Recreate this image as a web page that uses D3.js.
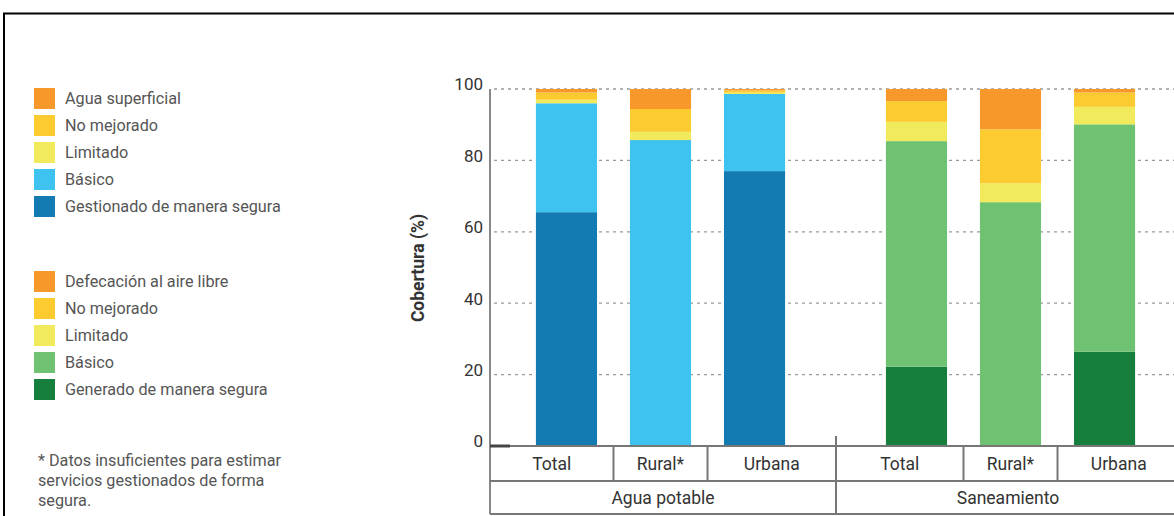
<!DOCTYPE html>
<html>
<head>
<meta charset="utf-8">
<script src="https://cdn.jsdelivr.net/npm/d3@7"></script>
<style>
  body { margin: 0; background: #fff; }
  svg { font-family: Roboto, "Noto Sans", sans-serif; }
</style>
</head>
<body>
<svg id="chart" width="1174" height="516"></svg>
<script>
// data
var groups = ["Agua potable", "Saneamiento"]
var categories = ["Total", "Rural*", "Urbana"]
var yTicks = [0, 20, 40, 60, 80, 100]

var aguaKeys = ["Gestionado de manera segura", "Básico", "Limitado", "No mejorado", "Agua superficial"]
var aguaColors = ["#137bb2", "#3ec3f0", "#f0ea5c", "#fccb30", "#f7992a"]
var aguaValues = [
  [65.5, 30.5, 1.0, 2.0, 1.0],   // Total
  [0, 85.7, 2.3, 6.4, 5.6],      // Rural*
  [77.0, 21.6, 0.4, 0.6, 0.4]    // Urbana
]

var sanKeys = ["Generado de manera segura", "Básico", "Limitado", "No mejorado", "Defecación al aire libre"]
var sanColors = ["#167f3e", "#6fc271", "#f0ea5c", "#fccb30", "#f7992a"]
var sanValues = [
  [22.2, 63.2, 5.4, 5.8, 3.4],
  [0, 68.3, 5.3, 15.1, 11.3],
  [26.4, 63.7, 4.9, 4.0, 1.0]
]

var footnote = ["* Datos insuficientes para estimar", "servicios gestionados de forma", "segura."]

var svg = d3.select("#chart")

// frame of the screenshot
svg.append("line").attr("x1", 3).attr("x2", 1174).attr("y1", 13.5).attr("y2", 13.5)
  .attr("stroke", "#000").attr("stroke-width", 2)
svg.append("line").attr("x1", 4).attr("x2", 4).attr("y1", 13).attr("y2", 516)
  .attr("stroke", "#000").attr("stroke-width", 2)

var plotLeft = 490, plotRight = 1180, plotTop = 89, plotBottom = 446

var y = d3.scaleLinear().domain([0, 100]).range([plotBottom, plotTop])
var xGroup = d3.scaleBand().domain(groups).range([plotLeft, plotLeft + 700])
var xInner = d3.scaleBand().domain(categories).range([13, 328]).padding(0.35)

// gridlines
svg.append("g").selectAll("line")
  .data(yTicks.filter(function (d) { return d > 0 }))
  .enter().append("line")
  .attr("x1", plotLeft + 4).attr("x2", plotRight)
  .attr("y1", function (d) { return y(d) }).attr("y2", function (d) { return y(d) })
  .attr("stroke", "#9a9a9a").attr("stroke-width", 1.3)
  .attr("stroke-dasharray", "3,4")

// y axis labels
var yAxis = svg.append("g")
  .attr("transform", "translate(" + plotLeft + ",0)")
  .call(d3.axisLeft(y).tickValues(yTicks).tickSize(0).tickPadding(7))
yAxis.select(".domain").remove()
yAxis.selectAll("text")
  .attr("font-size", 17).attr("fill", "#333")
  .attr("font-family", "Roboto, sans-serif")
  .attr("dy", "0.05em")

svg.append("text")
  .attr("transform", "translate(424," + 268 + ") rotate(-90)")
  .attr("text-anchor", "middle")
  .attr("font-size", 17.5).attr("font-weight", "bold").attr("fill", "#333")
  .text("Cobertura (%)")

// stacked bars
function drawGroup(group, keys, colors, values) {
  var rows = categories.map(function (c, i) {
    var r = { cat: c }
    keys.forEach(function (k, j) { r[k] = values[i][j] })
    return r
  })
  var stacked = d3.stack().keys(keys)(rows)
  var g = svg.append("g").attr("transform", "translate(" + xGroup(group) + ",0)")
  g.selectAll("g")
    .data(stacked)
    .enter().append("g")
    .attr("fill", function (d, i) { return colors[i] })
    .selectAll("rect")
    .data(function (d) { return d })
    .enter().append("rect")
    .attr("x", function (d) { return xInner(d.data.cat) })
    .attr("width", xInner.bandwidth())
    .attr("y", function (d) { return y(d[1]) })
    .attr("height", function (d) { return Math.max(0, y(d[0]) - y(d[1])) })
}
drawGroup(groups[0], aguaKeys, aguaColors, aguaValues)
drawGroup(groups[1], sanKeys, sanColors, sanValues)

// category table below the bars
var tableStroke = "#777"
var row1 = plotBottom, row2 = 481, row3 = 514
svg.append("line").attr("x1", plotLeft).attr("x2", plotLeft).attr("y1", plotTop).attr("y2", row3)
  .attr("stroke", "#888").attr("stroke-width", 2)
;[row1, row2, row3].forEach(function (yy) {
  svg.append("line").attr("x1", plotLeft).attr("x2", plotRight).attr("y1", yy).attr("y2", yy)
    .attr("stroke", tableStroke).attr("stroke-width", 2)
})
svg.append("line").attr("x1", plotLeft).attr("x2", plotLeft + 20).attr("y1", row1).attr("y2", row1)
  .attr("stroke", "#444").attr("stroke-width", 3)

var step = xInner.step()
groups.forEach(function (grp, gi) {
  var gx = xGroup(grp)
  var gEnd = gi === groups.length - 1 ? plotRight : gx + xGroup.bandwidth() - 4
  var bounds = [gi === 0 ? plotLeft : gx - 4]
  categories.forEach(function (c, i) {
    if (i > 0) bounds.push(gx + xInner(c) - (step - xInner.bandwidth()) / 2)
  })
  bounds.push(gEnd)
  if (gi > 0) {
    svg.append("line").attr("x1", bounds[0]).attr("x2", bounds[0])
      .attr("y1", 436).attr("y2", row3).attr("stroke", tableStroke).attr("stroke-width", 2)
  }
  categories.forEach(function (c, i) {
    if (i > 0) {
      svg.append("line").attr("x1", bounds[i]).attr("x2", bounds[i])
        .attr("y1", row1).attr("y2", row2).attr("stroke", tableStroke).attr("stroke-width", 2)
    }
    svg.append("text")
      .attr("x", (bounds[i] + bounds[i + 1]) / 2).attr("y", (row1 + row2) / 2 + 6)
      .attr("text-anchor", "middle").attr("font-size", 17.5).attr("fill", "#333")
      .text(c)
  })
  svg.append("text")
    .attr("x", (bounds[0] + bounds[3]) / 2).attr("y", (row2 + row3) / 2 + 6)
    .attr("text-anchor", "middle").attr("font-size", 17.5).attr("fill", "#333")
    .text(grp)
})

// legends (top item first, like the picture)
function drawLegend(y0, keys, colors) {
  var items = keys.map(function (k, i) { return { k: k, c: colors[i] } }).reverse()
  var lg = svg.append("g")
  var it = lg.selectAll("g").data(items).enter().append("g")
    .attr("transform", function (d, i) { return "translate(34," + (y0 + i * 27) + ")" })
  it.append("rect").attr("width", 21).attr("height", 21).attr("fill", function (d) { return d.c })
  it.append("text").attr("x", 31).attr("y", 16)
    .attr("font-size", 16.2).attr("fill", "#555").text(function (d) { return d.k })
}
drawLegend(88, aguaKeys, aguaColors)
drawLegend(271, sanKeys, sanColors)

svg.append("g").selectAll("text").data(footnote).enter().append("text")
  .attr("x", 38).attr("y", function (d, i) { return 466 + i * 20 })
  .attr("font-size", 16.2).attr("fill", "#555")
  .text(function (d) { return d })
</script>
</body>
</html>
